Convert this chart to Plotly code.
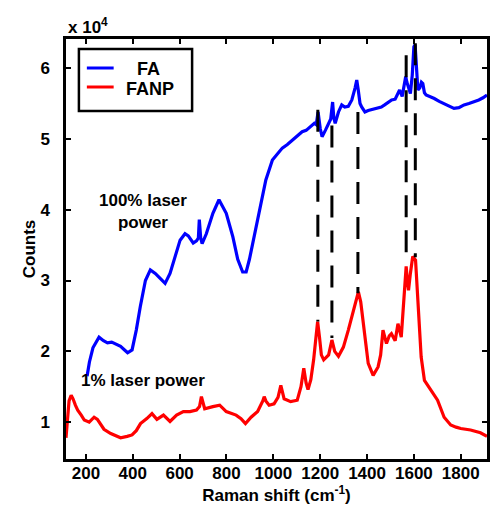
import plotly.graph_objects as go

# ---- data (counts in units of 1e4) ----
fa_shift = [205, 215, 230, 245, 256, 275, 292, 310, 327, 348, 365, 378, 397, 415, 432, 454, 475, 496, 517, 538,
            559, 580, 602, 623, 637, 658, 672, 680, 684, 690, 696, 714, 742, 768, 799, 827, 848, 869, 884, 898,
            912, 940, 968, 996, 1020, 1038, 1060, 1081, 1100, 1123, 1140, 1158, 1175, 1183, 1191, 1200, 1208,
            1222, 1236, 1245, 1253, 1258, 1264, 1278, 1292, 1305, 1320, 1335, 1349, 1356, 1362, 1370, 1377,
            1391, 1405, 1419, 1433, 1447, 1461, 1475, 1490, 1505, 1520, 1539, 1550, 1558, 1565, 1570, 1578,
            1585, 1593, 1600, 1605, 1611, 1617, 1625, 1632, 1638, 1645, 1652, 1670, 1687, 1708, 1729, 1750,
            1771, 1792, 1814, 1835, 1856, 1877, 1895, 1912]
fa_counts = [1.65, 1.85, 2.05, 2.15, 2.20, 2.15, 2.12, 2.13, 2.10, 2.07, 2.02, 1.98, 2.02, 2.30, 2.63, 3.00, 3.15,
             3.10, 3.03, 2.96, 3.10, 3.33, 3.57, 3.66, 3.63, 3.53, 3.56, 3.60, 3.86, 3.60, 3.52, 3.66, 3.95, 4.14,
             3.95, 3.62, 3.30, 3.12, 3.12, 3.30, 3.52, 3.95, 4.42, 4.70, 4.80, 4.87, 4.92, 4.98, 5.03, 5.10, 5.12,
             5.17, 5.22, 5.20, 5.38, 5.15, 5.03, 5.12, 5.22, 5.28, 5.52, 5.30, 5.22, 5.38, 5.48, 5.45, 5.46, 5.55,
             5.72, 5.83, 5.70, 5.50, 5.45, 5.38, 5.40, 5.41, 5.42, 5.43, 5.45, 5.48, 5.52, 5.55, 5.56, 5.69, 5.60,
             5.75, 5.88, 5.80, 5.70, 5.64, 5.90, 6.30, 6.33, 6.00, 5.69, 5.72, 5.80, 5.78, 5.65, 5.62, 5.60, 5.57,
             5.53, 5.50, 5.46, 5.43, 5.44, 5.48, 5.50, 5.52, 5.55, 5.58, 5.62]

fanp_shift = [115, 120, 128, 137, 145, 155, 165, 180, 193, 214, 235, 249, 262, 277, 306, 348, 376, 397, 415, 433,
              460, 482, 503, 531, 559, 587, 616, 644, 672, 685, 693, 700, 707, 742, 771, 799, 841, 862, 881, 905,
              933, 955, 961, 968, 982, 1003, 1020, 1032, 1040, 1046, 1074, 1102, 1118, 1130, 1140, 1148, 1160,
              1172, 1182, 1189, 1197, 1205, 1215, 1236, 1250, 1262, 1278, 1299, 1320, 1342, 1363, 1373, 1384,
              1395, 1405, 1426, 1447, 1458, 1468, 1483, 1495, 1504, 1520, 1532, 1546, 1553, 1560, 1567, 1572,
              1577, 1585, 1595, 1607, 1612, 1617, 1624, 1631, 1645, 1660, 1673, 1701, 1729, 1757, 1780, 1800,
              1842, 1884, 1912]
fanp_counts = [0.78, 1.05, 1.30, 1.38, 1.33, 1.24, 1.17, 1.10, 1.03, 1.00, 1.07, 1.04, 0.98, 0.90, 0.84, 0.78,
               0.80, 0.82, 0.88, 0.98, 1.05, 1.12, 1.04, 1.10, 1.01, 1.10, 1.15, 1.15, 1.17, 1.22, 1.36, 1.25,
               1.19, 1.22, 1.24, 1.15, 1.10, 1.05, 0.98, 1.07, 1.15, 1.30, 1.36, 1.30, 1.24, 1.26, 1.35, 1.52,
               1.42, 1.33, 1.29, 1.31, 1.50, 1.76, 1.55, 1.46, 1.60, 1.88, 2.20, 2.42, 2.20, 1.95, 1.88, 1.95,
               2.16, 2.00, 1.93, 2.06, 2.30, 2.58, 2.84, 2.70, 2.44, 2.10, 1.83, 1.66, 1.78, 1.95, 2.30, 2.11,
               2.22, 2.25, 2.15, 2.39, 2.20, 2.50, 2.82, 3.20, 3.00, 2.86, 3.10, 3.34, 3.29, 3.00, 2.63, 2.20,
               1.92, 1.59, 1.52, 1.45, 1.31, 1.07, 0.96, 0.93, 0.91, 0.89, 0.85, 0.80]

peak_shift = [1190, 1250, 1361, 1567, 1606]
peak_low = [2.42, 2.19, 2.82, 3.22, 3.33]
peak_high = [5.41, 5.19, 5.38, 6.18, 6.35]

x_ticks = [200, 400, 600, 800, 1000, 1200, 1400, 1600, 1800]
y_ticks = [1, 2, 3, 4, 5, 6]

FONT = "Liberation Sans, Arial, sans-serif"
FS = 17

fig = go.Figure()
fig.add_trace(go.Scatter(x=fanp_shift, y=fanp_counts, mode="lines", name="FANP",
                         line=dict(color="#ff0000", width=3.2), showlegend=False))
fig.add_trace(go.Scatter(x=fa_shift, y=fa_counts, mode="lines", name="FA",
                         line=dict(color="#0000ff", width=3.2), showlegend=False))
for xs, lo, hi in zip(peak_shift, peak_low, peak_high):
    fig.add_trace(go.Scatter(x=[xs, xs], y=[hi, lo], mode="lines", showlegend=False,
                             line=dict(color="black", width=3, dash="22px,13px")))

axis_common = dict(showline=True, linecolor="black", linewidth=2.5, mirror="ticks",
                   ticks="inside", ticklen=5, tickwidth=1.5, tickcolor="black",
                   showgrid=False, zeroline=False,
                   tickfont=dict(family=FONT, size=FS, color="black", weight="bold"))

fig.update_xaxes(range=[115, 1912], tickvals=x_ticks, ticktext=[str(v) for v in x_ticks],
                 ticklabelstandoff=-3,
                 title=dict(text="Raman shift (cm<sup>-1</sup>)", standoff=5,
                            font=dict(family=FONT, size=FS, color="black", weight="bold")),
                 **axis_common)
fig.update_yaxes(range=[0.48, 6.41], tickvals=y_ticks, ticktext=[str(v) for v in y_ticks],
                 ticklabelstandoff=10,
                 title=dict(text="Counts", standoff=1,
                            font=dict(family=FONT, size=FS, color="black", weight="bold")),
                 **axis_common)

# legend box drawn manually
fig.add_shape(type="rect", xref="paper", yref="paper", x0=(79 - 66) / 424, x1=(193 - 66) / 424,
              y0=(459 - 111) / 420, y1=(459 - 49) / 420, line=dict(color="black", width=2.5),
              fillcolor="white")
for yy, col in [(68, "#0000ff"), (87, "#ff0000")]:
    fig.add_shape(type="line", xref="paper", yref="paper", x0=(87 - 66) / 424, x1=(114 - 66) / 424,
                  y0=(459 - yy) / 420, y1=(459 - yy) / 420, line=dict(color=col, width=3))
for txt, xx, yy in [("FA", 149, 69), ("FANP", 151, 89)]:
    fig.add_annotation(x=(xx - 66) / 424, y=(459 - yy) / 420, xref="paper", yref="paper",
                       text=txt, showarrow=False, xanchor="center", yanchor="middle",
                       font=dict(family=FONT, size=18, color="black", weight="bold"))

txt_font = dict(family=FONT, size=FS, color="black", weight="bold")
fig.add_annotation(x=(144 - 66) / 424, y=(459 - 211) / 420, xref="paper", yref="paper",
                   text="100% laser<br>power", showarrow=False, xanchor="center", yanchor="middle",
                   font=txt_font, align="center")
fig.add_annotation(x=(144 - 66) / 424, y=(459 - 380) / 420, xref="paper", yref="paper",
                   text="1% laser power", showarrow=False, xanchor="center", yanchor="middle",
                   font=txt_font)
fig.add_annotation(x=(66 - 66) / 424, y=(459 - 26) / 420, xref="paper", yref="paper",
                   text="x 10<sup>4</sup>", showarrow=False, xanchor="left", yanchor="middle",
                   font=txt_font)

fig.update_layout(width=495, height=505, margin=dict(l=66, r=5, t=39, b=46),
                  plot_bgcolor="white", paper_bgcolor="white", showlegend=False)

fig.write_html("out.html")
